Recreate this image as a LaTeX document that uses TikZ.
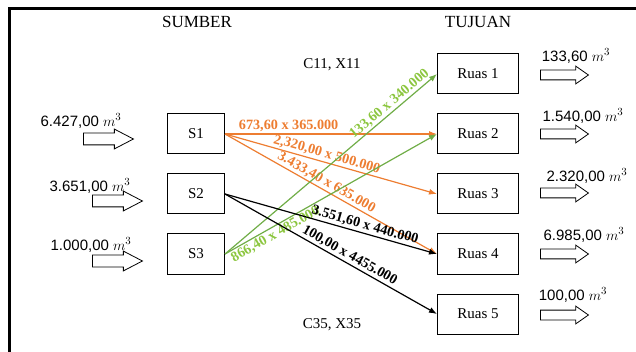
\documentclass[tikz,border=0pt]{standalone}
\usepackage{fontspec}
\setmainfont{Liberation Serif}
\newfontfamily\volfont{Liberation Sans}
\usetikzlibrary{shapes.arrows,arrows.meta}
\definecolor{flowor}{HTML}{ED7D31}
\definecolor{flowgn}{HTML}{70AD47}
\definecolor{labgn}{HTML}{8CC63F}
\tikzset{
  every node/.style={font=\fontsize{15}{17}\selectfont},
  heading/.style={font=\fontsize{17}{19}\selectfont},
  box/.style={draw, line width=1pt, minimum width=57pt, minimum height=40pt, inner sep=0pt},
  rbox/.style={draw, line width=1pt, minimum width=81pt, minimum height=40pt, inner sep=0pt},
  inarrow/.style={single arrow, draw, line width=0.8pt, minimum height=50pt, inner xsep=0pt,
    inner ysep=5.5pt, single arrow head extend=4pt, single arrow tip angle=55, anchor=west},
  outarrow/.style={single arrow, draw, line width=0.8pt, minimum height=48pt, inner xsep=0pt,
    inner ysep=4.5pt, single arrow head extend=4pt, single arrow tip angle=70, anchor=west},
  vol/.style={font=\volfont\fontsize{15}{17}\selectfont},
  flow/.style={line width=1.2pt, -{Latex[length=8pt,width=6pt]}},
  flowlab/.style={font=\bfseries\fontsize{14.2}{16}\selectfont, sloped, inner sep=1.5pt},
}
\begin{document}
\begin{tikzpicture}[x=1pt,y=-1pt]
\useasboundingbox (0,0) rectangle (636,352);
% frame
\draw[line width=3pt] (9,352) -- (9,9) -- (636,9);

% headings
\node[heading] (hsrc) at (197,22) {SUMBER};
\node[heading] (hdst) at (478,22) {TUJUAN};
\node (c11) at (332,65) {C11, X11};
\node (c35) at (332,325) {C35, X35};

% sources
\node[box] (s1) at (196,134) {S1};
\node[box] (s2) at (196,194) {S2};
\node[box] (s3) at (196,254) {S3};

% destinations
\node[rbox] (r1) at (478,74) {Ruas 1};
\node[rbox] (r2) at (478,134) {Ruas 2};
\node[rbox] (r3) at (478,194) {Ruas 3};
\node[rbox] (r4) at (478,254) {Ruas 4};
\node[rbox] (r5) at (478,314) {Ruas 5};

% supply arrows
\node[inarrow] (a1) at (83,139) {};
\node[inarrow] (a2) at (92,201) {};
\node[inarrow] (a3) at (92,261) {};
\node[vol] (v1) at (81,121) {6.427,00 $m^3$};
\node[vol] (v2) at (90,186) {3.651,00 $m^3$};
\node[vol] (v3) at (91,245) {1.000,00 $m^3$};

% demand arrows
\node[outarrow] (b1) at (540,75) {};
\node[outarrow] (b2) at (540,134) {};
\node[outarrow] (b3) at (540,193) {};
\node[outarrow] (b4) at (540,254) {};
\node[outarrow] (b5) at (540,315) {};
\node[vol] (w1) at (576,56) {133,60 $m^3$};
\node[vol] (w2) at (583,116) {1.540,00 $m^3$};
\node[vol] (w3) at (587,176) {2.320,00 $m^3$};
\node[vol] (w4) at (584,235) {6.985,00 $m^3$};
\node[vol] (w5) at (573,295) {100,00 $m^3$};

% allocations from S1
\draw[flow, flowor] (s1.east) -- (r2.west)
  node[flowlab, text=flowor, pos=0.3, above] {673,60 x 365.000};
\draw[flow, flowor] (s1.east) -- (r3.west)
  node[flowlab, text=flowor, pos=0.47, above] {2,320,00 x 500.000};
\draw[flow, flowor] (s1.east) -- (r4.west)
  node[flowlab, text=flowor, pos=0.46, above] {3.433,40 x 635.000};

% allocations from S3
\draw[flow, flowgn] (s3.east) -- (r1.west)
  node[flowlab, text=labgn, pos=0.8, above] {133,60 x 340.000};
\draw[flow, flowgn] (s3.east) -- (r2.west)
  node[flowlab, text=labgn, pos=0.22, below] {866,40 x 485.000};

% allocations from S2
\draw[flow, black] (s2.east) -- (r4.west)
  node[flowlab, pos=0.65, above] {3.551,60 x 440.000};
\draw[flow, black] (s2.east) -- (r5.west)
  node[flowlab, pos=0.57, above] {100,00 x 4455.000};
\end{tikzpicture}
\end{document}
